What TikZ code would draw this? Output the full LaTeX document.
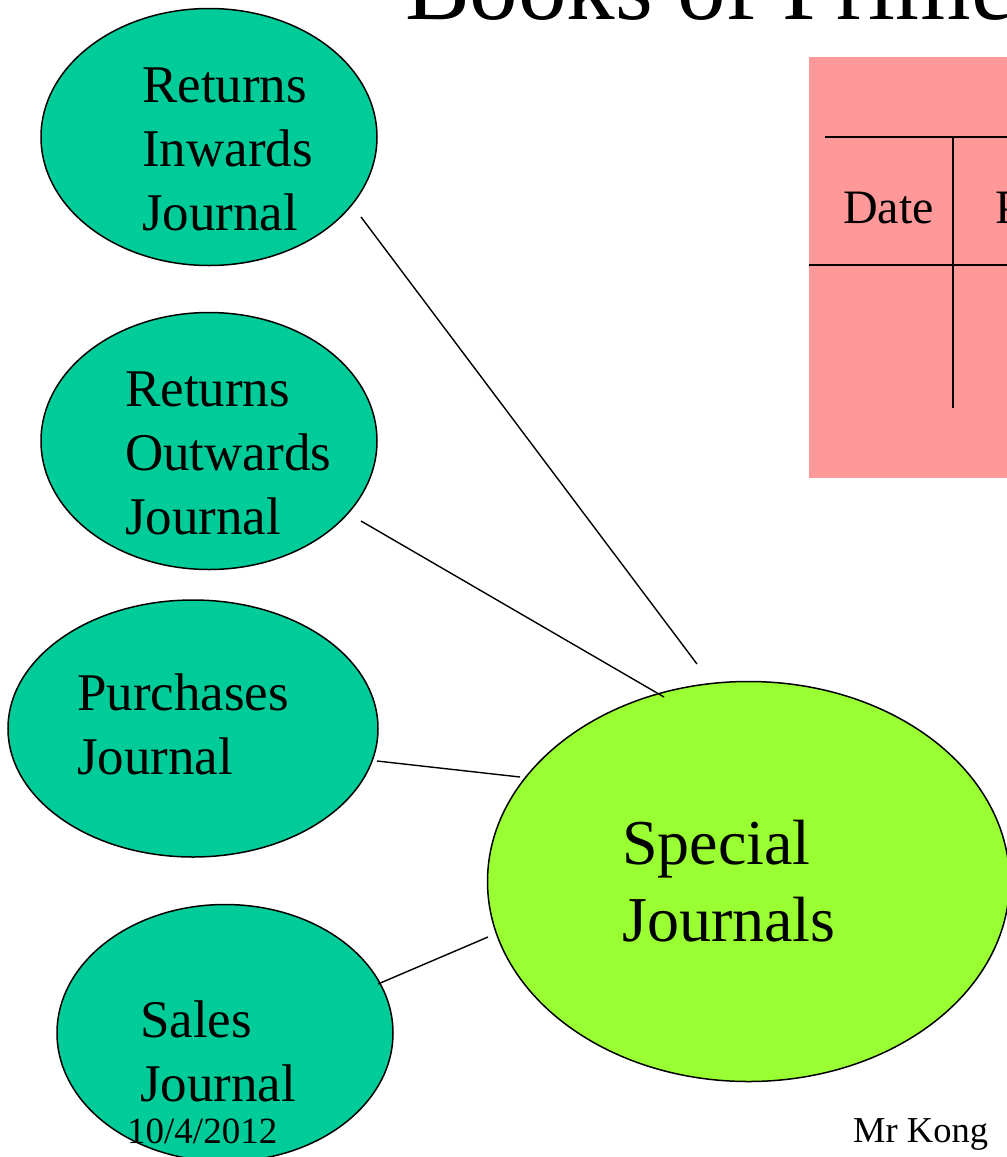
\documentclass[tikz,border=0pt]{standalone}
\usepackage{fontspec}
\setmainfont{Liberation Serif}
\usetikzlibrary{shapes.geometric}
\definecolor{journalteal}{HTML}{00CC99}
\definecolor{speciallime}{HTML}{99FF33}
\definecolor{ledgerpink}{HTML}{FF9999}
\begin{document}
\begin{tikzpicture}[x=1pt,y=-1pt,
  journal/.style={ellipse, draw=black, line width=1.5pt, fill=journalteal,
    inner sep=0pt, outer sep=0pt, minimum width=336pt, minimum height=257pt},
  jtext/.style={anchor=base west, inner sep=0pt, font=\fontsize{53}{64}\selectfont},
  stext/.style={anchor=base west, inner sep=0pt, font=\fontsize{64}{77}\selectfont},
  link/.style={draw=black, line width=1.4pt},
  rule/.style={draw=black, line width=1.6pt},
  foot/.style={anchor=base west, inner sep=0pt, font=\fontsize{37}{44}\selectfont}]
\useasboundingbox (0,0) rectangle (1007,1157);
\clip (0,0) rectangle (1007,1157);

% heading
\node[anchor=base west, inner sep=0pt, font=\fontsize{97}{116}\selectfont] (title) at (405,19) {Books of Prime Entry};

% journal ruling on a pink card
\fill[ledgerpink] (809,57) rectangle (1020,478);
\draw[rule] (825,137) -- (1020,137);
\draw[rule] (809,265) -- (1020,265);
\draw[rule] (953,137) -- (953,408);
\node[anchor=base west, inner sep=0pt, font=\fontsize{48}{57}\selectfont] (date) at (843,223) {Date};
\node[anchor=base west, inner sep=0pt, font=\fontsize{48}{57}\selectfont] (part) at (995,223) {Particulars};

% the journals
\node[journal] (ri) at (209,137) {};
\node[journal] (ro) at (209,441) {};
\node[journal, minimum width=370pt] (pj) at (193,728.5) {};
\node[journal] (sj) at (225,1033) {};
\node[ellipse, draw=black, line width=1.5pt, fill=speciallime, inner sep=0pt,
  minimum width=522pt, minimum height=400pt] (special) at (748.5,881.5) {};

\node[jtext] (ri1) at (142,102) {Returns};
\node[jtext] (ri2) at (142,166) {Inwards};
\node[jtext] (ri3) at (142,230) {Journal};

\node[jtext] (ro1) at (125,406) {Returns};
\node[jtext] (ro2) at (125,470) {Outwards};
\node[jtext] (ro3) at (125,534) {Journal};

\node[jtext] (pj1) at (77,710) {Purchases};
\node[jtext] (pj2) at (77,774) {Journal};

\node[jtext] (sj1) at (140,1037) {Sales};
\node[jtext] (sj2) at (140,1101) {Journal};

\node[stext] (sp1) at (622,864) {Special};
\node[stext] (sp2) at (622,941) {Journals};

% connectors
\coordinate (riA) at (361,217);
\coordinate (riB) at (697,664);
\coordinate (roA) at (361,521);
\coordinate (roB) at (664,697);
\coordinate (pjA) at (377,761);
\coordinate (pjB) at (520,777);
\coordinate (sjA) at (378,984);
\coordinate (sjB) at (488,937);
\draw[link] (riA) -- (riB);
\draw[link] (roA) -- (roB);
\draw[link] (pjA) -- (pjB);
\draw[link] (sjA) -- (sjB);

% footer
\node[foot] (when) at (127,1143) {10/4/2012};
\node[foot, font=\fontsize{36.5}{44}\selectfont] (who) at (853,1142) {Mr Kong};
\end{tikzpicture}
\end{document}
